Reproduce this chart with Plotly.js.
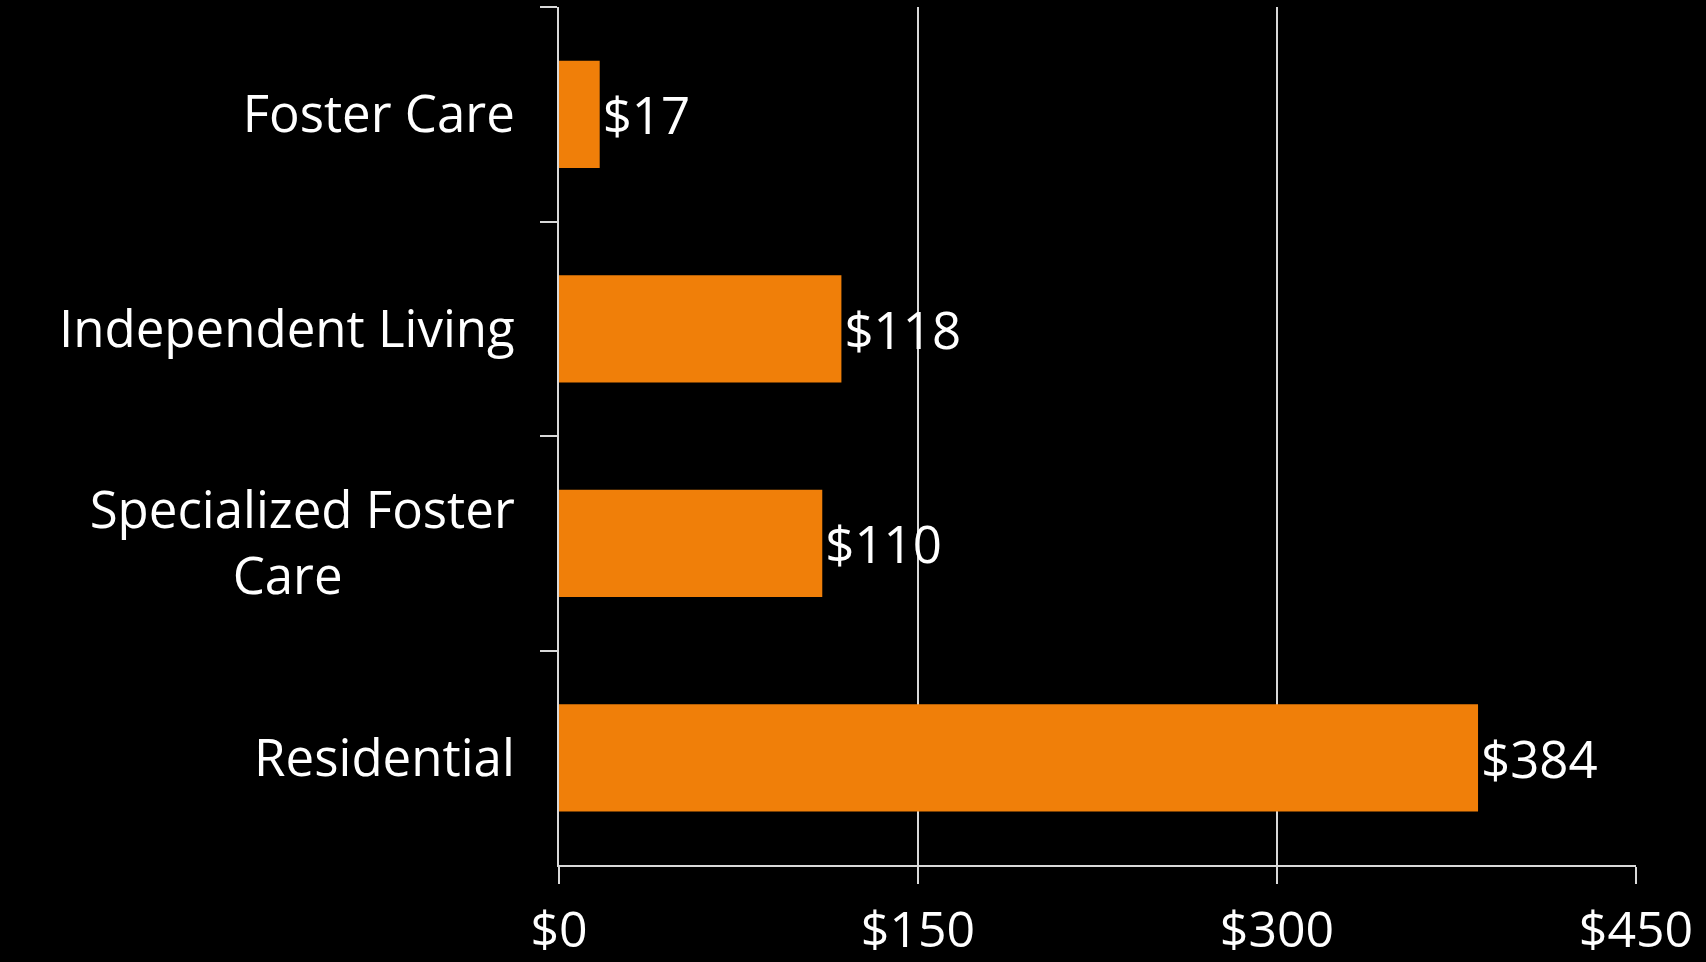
<!DOCTYPE html>
<html>
<head>
<meta charset="utf-8">
<script src="https://cdn.plot.ly/plotly-3.0.1.min.js"></script>
<style>html,body{margin:0;padding:0;background:#000;}#chart{width:1706px;height:962px;}</style>
</head>
<body>
<div id="chart"></div>
<script>
const categories = ['Foster Care', 'Independent Living', 'Specialized Foster<br>Care\u00a0\u00a0\u00a0\u00a0\u00a0\u00a0\u00a0\u00a0\u00a0\u00a0\u00a0\u00a0\u00a0', 'Residential'];
const costs = [17, 118, 110, 384];
const valueLabels = costs.map(v => '$' + v);
const xTicks = [0, 150, 300, 450];
const xTickLabels = ['$0', '$150', '$300', '$450'];

const fontFamily = '"Open Sans", Lato, sans-serif';
const lineColor = '#d9d9d9';

const trace = {
  type: 'bar',
  orientation: 'h',
  x: costs,
  y: categories,
  text: valueLabels,
  textposition: 'outside',
  cliponaxis: false,
  textfont: {family: fontFamily, size: 51, color: '#ffffff'},
  marker: {color: '#F07F09'},
  hoverinfo: 'none'
};

const layout = {
  width: 1706,
  height: 962,
  paper_bgcolor: '#000000',
  plot_bgcolor: '#000000',
  margin: {l: 559, r: 70, t: 7, b: 97},
  bargap: 0.5,
  showlegend: false,
  font: {family: fontFamily, size: 51, color: '#ffffff'},
  xaxis: {
    range: [0, 450],
    tickvals: xTicks,
    ticktext: xTickLabels,
    showgrid: true,
    gridcolor: lineColor,
    gridwidth: 2,
    zeroline: false,
    showline: true,
    linecolor: lineColor,
    linewidth: 2,
    ticks: 'outside',
    ticklen: 17,
    tickwidth: 2,
    tickcolor: lineColor,
    ticklabelstandoff: 3,
    tickfont: {family: fontFamily, size: 50, color: '#ffffff'},
    fixedrange: true
  },
  yaxis: {
    autorange: 'reversed',
    type: 'category',
    showgrid: false,
    zeroline: false,
    showline: true,
    linecolor: lineColor,
    linewidth: 2,
    ticks: 'outside',
    tickson: 'boundaries',
    ticklen: 17,
    tickwidth: 2,
    tickcolor: lineColor,
    ticklabelstandoff: 32,
    tickfont: {family: fontFamily, size: 51, color: '#ffffff'},
    fixedrange: true
  }
};

Plotly.newPlot('chart', [trace], layout, {displayModeBar: false, staticPlot: true});
</script>
</body>
</html>
